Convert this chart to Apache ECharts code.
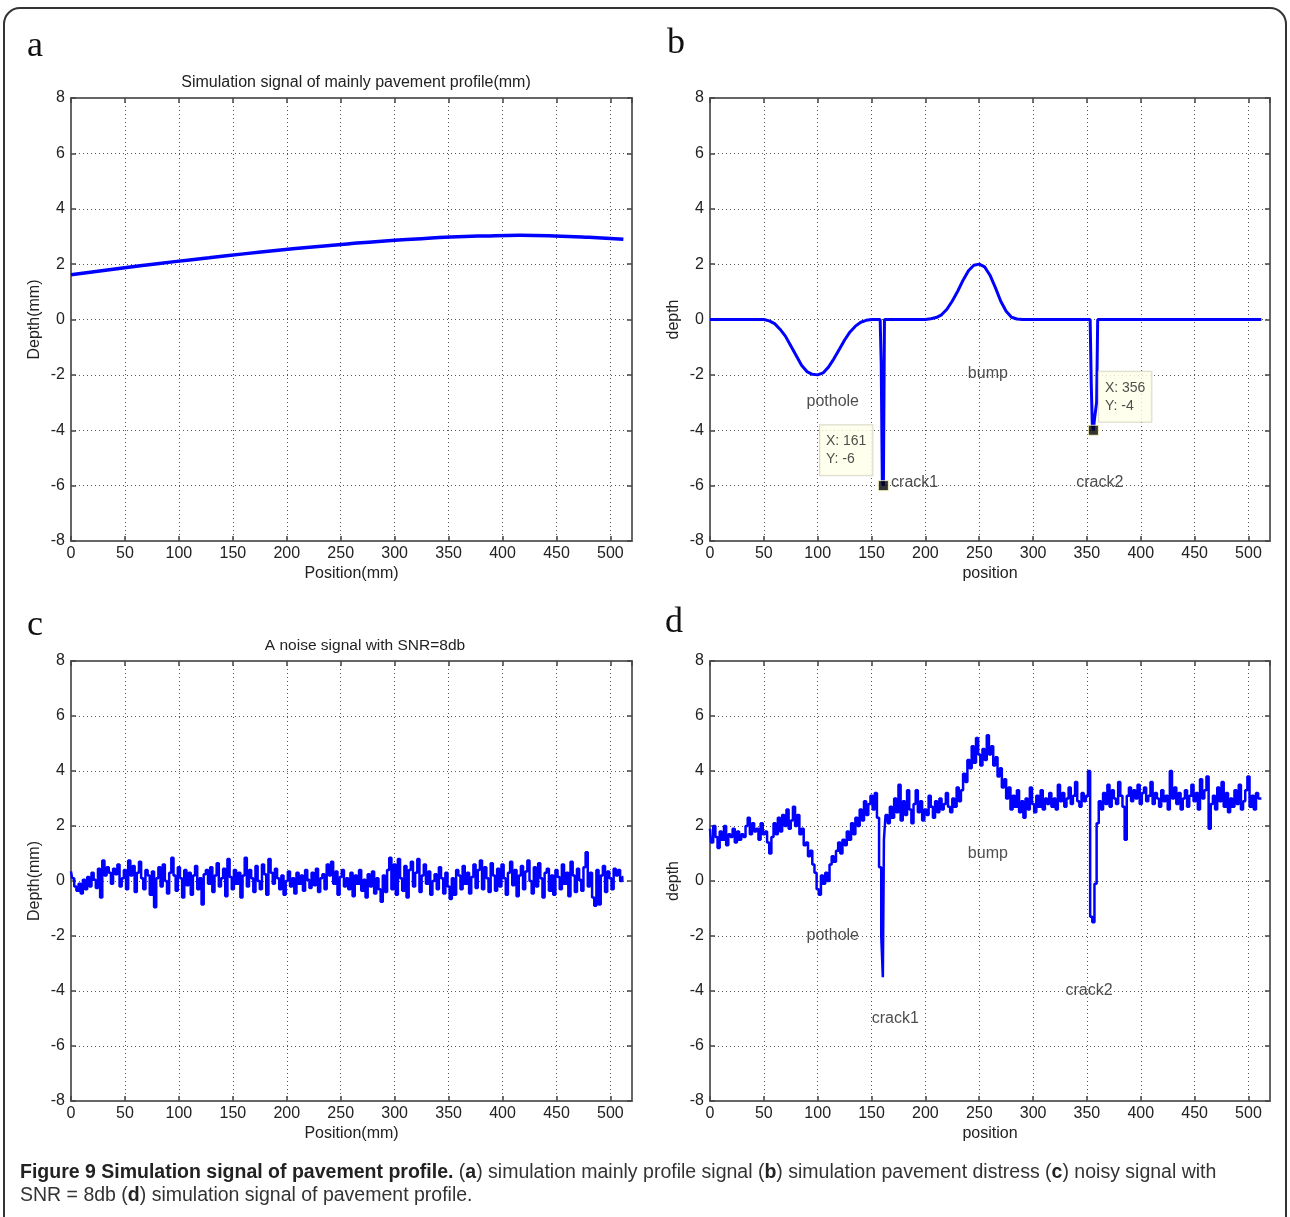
<!DOCTYPE html>
<html>
<head>
<meta charset="utf-8">
<script src="https://cdn.jsdelivr.net/npm/echarts@6/dist/echarts.min.js"></script>
<style>
  html, body { margin: 0; padding: 0; background: #fff; }
  #chart { width: 1290px; height: 1217px; }
</style>
</head>
<body>
<div id="chart"></div>
<script>
// panel a: smooth profile, sampled every 32 mm
var profileX = [0, 32, 64, 96, 128, 160, 192, 224, 256, 288, 320, 352, 384, 416, 448, 480, 512];
var profileY = [1.62, 1.78, 1.94, 2.09, 2.23, 2.37, 2.5, 2.62, 2.73, 2.83, 2.91, 2.98, 3.02, 3.04, 3.02, 2.97, 2.9];

// panel b: distress signal (pothole, crack1, bump, crack2)
var distressX = [0, 50, 55, 60, 65, 70, 75, 80, 85, 90, 95, 100, 105, 110, 115, 120, 125, 130, 135, 140, 145, 150,
  158, 159, 160, 161, 162, 200, 205, 210, 215, 220, 225, 230, 235, 240, 245, 250, 255, 260, 265, 270, 275, 280, 285, 290,
  353, 354, 355, 356, 357, 359, 360, 512];
var distressY = [0, 0, -0.05, -0.15, -0.35, -0.6, -0.95, -1.3, -1.65, -1.88, -1.98, -2.0, -1.93, -1.72, -1.42, -1.08, -0.74, -0.45, -0.24, -0.1, -0.03, 0,
  0, -1.6, -5.8, -6, 0, 0, 0.03, 0.07, 0.17, 0.37, 0.67, 1.02, 1.42, 1.76, 1.96, 2.0, 1.9, 1.6, 1.15, 0.66, 0.3, 0.08, 0.02, 0,
  0, -2.3, -3.8, -4, -3.6, -3.0, 0, 0];

// panel c: noise, one value every 2 mm (0..512)
var noiseStep = 2;
var noiseY = [
  0.35, 0.1, -0.2, -0.35, -0.1, -0.45, 0.05, -0.3, 0.15, -0.2, 0.3, 0.05, -0.25, 0.45, -0.6, 0.75,
  0.2, 0.5, 0.3, -0.1, 0.45, 0.25, 0.6, -0.2, 0.1, 0.4, -0.3, 0.75, 0.2, 0.55, -0.4, 0.3,
  0.7, 0.1, -0.3, 0.4, 0.2, -0.5, 0.35, -0.95, 0.1, 0.5, -0.2, 0.6, 0.0, -0.45, 0.3, 0.85,
  0.2, -0.35, 0.5, 0.1, -0.6, 0.4, -0.15, 0.3, -0.5, 0.2, 0.55, -0.3, 0.1, -0.85, 0.25, 0.4,
  -0.1, 0.5, -0.4, 0.2, 0.65, -0.2, 0.1, 0.45, -0.55, 0.8, 0.15, -0.3, 0.4, -0.1, 0.3, -0.6,
  0.2, 0.85, -0.2, 0.4, 0.1, -0.4, 0.55, 0.0, -0.3, 0.6, 0.25, -0.5, 0.8, 0.3, -0.1, 0.45,
  0.1, -0.3, 0.2, -0.5, 0.0, 0.35, -0.2, 0.1, -0.45, 0.3, -0.1, 0.2, -0.35, 0.4, 0.05, -0.25,
  0.3, -0.15, 0.45, -0.4, 0.1, 0.25, -0.3, 0.6, 0.2, 0.7, -0.1, 0.35, -0.5, 0.15, 0.4, -0.2,
  0.1, -0.3, 0.3, -0.55, 0.2, -0.1, 0.4, -0.35, 0.05, -0.6, 0.25, -0.2, 0.35, -0.45, 0.1, -0.3,
  -0.75, 0.2, -0.4, 0.4, 0.85, -0.3, 0.6, -0.5, 0.8, 0.1, -0.35, 0.55, -0.6, 0.4, 0.7, -0.2,
  0.3, 0.8, -0.4, 0.2, 0.6, -0.1, 0.35, -0.5, 0.0, 0.25, -0.3, 0.5, 0.1, -0.45, 0.3, -0.2,
  -0.65, 0.1, -0.5, 0.4, 0.2, -0.3, 0.55, -0.1, 0.3, -0.45, 0.15, 0.6, -0.25, 0.4, 0.75, -0.3,
  0.5, 0.1, -0.4, 0.65, 0.2, -0.35, 0.45, -0.2, 0.6, 0.1, -0.5, 0.3, 0.7, -0.15, 0.4, -0.55,
  0.2, 0.55, -0.3, 0.35, 0.75, 0.0, -0.45, 0.5, -0.2, 0.65, 0.1, -0.6, 0.3, 0.45, -0.35, 0.2,
  -0.5, 0.4, 0.15, -0.3, 0.6, -0.1, 0.3, -0.55, 0.7, 0.2, -0.4, 0.45, 0.05, -0.35, 0.5, 1.05,
  -0.2, 0.3, -0.6, -0.9, 0.4, -0.85, 0.2, 0.55, -0.4, 0.35, 0.1, -0.3, 0.45, 0.2, 0.4, 0.0,
  0.15
];

// panel d: full simulated profile, one value every 2 mm, plus the crack1 bottom sample
var fullStep = 2;
var fullY = [
  1.9, 1.4, 2.0, 1.6, 1.2, 1.8, 1.5, 2.0, 1.3, 1.7, 1.6, 1.9, 1.4, 1.8, 1.5, 1.7,
  1.6, 2.0, 2.3, 1.7, 2.1, 1.8, 1.9, 1.5, 2.1, 1.7, 1.8, 1.4, 1.0, 1.6, 2.1, 1.7,
  2.3, 1.8, 2.4, 2.0, 2.6, 1.9, 2.2, 2.7, 2.0, 2.4, 1.7, 1.9, 1.3, 1.4, 0.9, 1.1,
  0.6, 0.3, -0.3, -0.5, 0.2, -0.1, 0.3, 0.0, 0.6, 0.9, 0.7, 1.1, 1.4, 1.0, 1.5, 1.3,
  1.8, 1.5, 2.1, 1.7, 2.3, 2.0, 2.6, 2.2, 2.9, 2.4, 2.8, 3.1, 2.6, 3.2, 2.3, 0.5,
  -2.0, 1.5, 2.4, 2.1, 2.7, 2.3, 3.0, 2.5, 3.5, 2.2, 2.9, 2.4, 3.3, 2.6, 2.1, 2.8,
  3.3, 2.5, 2.9, 2.2, 2.6, 2.4, 3.1, 2.7, 2.3, 2.9, 2.5, 3.0, 2.6, 2.8, 3.2, 2.7,
  2.5, 3.0, 2.7, 3.4, 2.9, 3.3, 3.9, 3.6, 4.4, 4.1, 4.9, 4.3, 5.2, 4.6, 4.2, 4.8,
  4.4, 5.3, 4.6, 4.9, 4.2, 4.5, 3.8, 4.1, 3.4, 3.7, 3.0, 3.4, 2.6, 3.1, 2.7, 3.3,
  2.5, 2.9, 2.3, 3.0, 2.6, 3.4, 2.8, 2.5, 3.1, 2.7, 3.3, 2.6, 3.0, 2.8, 3.2, 2.7,
  3.0, 2.6, 3.5, 2.9, 3.2, 2.7, 3.0, 3.4, 2.8, 3.1, 3.6, 2.9, 2.7, 3.2, 2.9, 3.1,
  4.0, -1.3, -1.5, -0.1, 2.1, 2.9, 2.6, 3.2, 2.8, 3.5, 2.7, 3.3, 3.0, 2.8, 3.6, 3.1,
  2.7, 1.5, 3.1, 3.4, 2.9, 3.3, 3.0, 3.5, 2.8, 3.2, 3.4, 2.9, 3.1, 3.6, 2.8, 3.2,
  3.0, 2.7, 3.3, 2.9, 3.1, 2.6, 4.0, 3.0, 3.4, 2.8, 3.2, 2.6, 3.0, 3.3, 2.7, 3.1,
  3.5, 2.9, 3.2, 2.6, 3.7, 3.0, 3.3, 3.8, 1.9, 2.8, 3.1, 2.6, 3.4, 2.9, 3.6, 2.7,
  3.2, 2.5, 3.0, 2.7, 3.3, 2.8, 3.5, 2.6, 2.9, 3.3, 3.8, 2.7, 3.1, 2.6, 3.2, 3.0,
  3.0
];
var crackX = [161];
var crackY = [-3.5];

// annotation texts
var labelNames = ['pothole', 'bump', 'crack1', 'crack2'];
var labelPosB = [[114, -2.95], [258, -1.95], [190, -5.9], [362, -5.9]];
var labelPosD = [[114, -2.0], [258, 1.0], [172, -5.0], [352, -4.0]];
var tipPts = [[161, -6], [356, -4]];

var xTicks = { min: 0, max: 520, interval: 50 };
var yTicks = { min: -8, max: 8, interval: 2 };

var FONT = 'Liberation Sans, Arial, sans-serif';
var BLUE = '#0000ff';

function pairs(xs, ys) {
  return xs.map(function (x, i) { return [x, ys[i]]; });
}
function stepPairs(step, ys) {
  return ys.map(function (y, i) { return [i * step, y]; });
}

var fullData = stepPairs(fullStep, fullY).concat(pairs(crackX, crackY));
fullData.sort(function (p, q) { return p[0] - q[0]; });

var grids = [
  { left: 71, top: 98, width: 561, height: 443 },
  { left: 710, top: 98, width: 560, height: 443 },
  { left: 71, top: 661, width: 561, height: 440 },
  { left: 710, top: 661, width: 560, height: 440 }
];
var xNames = ['Position(mm)', 'position', 'Position(mm)', 'position'];
var yNames = ['Depth(mm)', 'depth', 'Depth(mm)', 'depth'];

var lineCol = '#666';
var tickStyle = { show: true, inside: true, length: 5, lineStyle: { color: '#444', width: 1.5 } };
var xAxes = [], yAxes = [];
grids.forEach(function (g, i) {
  xAxes.push({
    gridIndex: i, type: 'value', position: 'bottom', min: xTicks.min, max: xTicks.max, interval: xTicks.interval,
    name: xNames[i], nameLocation: 'middle', nameGap: 25,
    nameTextStyle: { fontFamily: FONT, fontSize: 16, color: '#222' },
    axisLine: { show: true, onZero: false, lineStyle: { color: lineCol, width: 2 } },
    axisTick: tickStyle,
    axisLabel: { fontFamily: FONT, fontSize: 16, color: '#222', margin: 5, showMaxLabel: false },
    splitLine: { show: true, lineStyle: { color: '#555', width: 1, type: [1, 3] } }
  });
  xAxes.push({
    gridIndex: i, type: 'value', position: 'top', min: xTicks.min, max: xTicks.max, interval: xTicks.interval,
    axisLine: { show: true, onZero: false, lineStyle: { color: lineCol, width: 2 } },
    axisTick: tickStyle,
    axisLabel: { show: false }, splitLine: { show: false }
  });
  yAxes.push({
    gridIndex: i, type: 'value', position: 'left', min: yTicks.min, max: yTicks.max, interval: yTicks.interval,
    name: yNames[i], nameLocation: 'middle', nameGap: 28,
    nameTextStyle: { fontFamily: FONT, fontSize: 16, color: '#222' },
    axisLine: { show: true, onZero: false, lineStyle: { color: lineCol, width: 2 } },
    axisTick: tickStyle,
    axisLabel: { fontFamily: FONT, fontSize: 16, color: '#222', margin: 6 },
    splitLine: { show: true, lineStyle: { color: '#555', width: 1, type: [1, 3] } }
  });
  yAxes.push({
    gridIndex: i, type: 'value', position: 'right', min: yTicks.min, max: yTicks.max, interval: yTicks.interval,
    axisLine: { show: true, onZero: false, lineStyle: { color: lineCol, width: 2 } },
    axisTick: tickStyle,
    axisLabel: { show: false }, splitLine: { show: false }
  });
});

function lineSeries(idx, data, width, smooth, step) {
  return {
    type: 'line', xAxisIndex: idx * 2, yAxisIndex: idx * 2, data: data,
    showSymbol: false, symbol: 'none', smooth: !!smooth, step: step || false,
    lineStyle: { color: BLUE, width: width }, z: 3
  };
}
function textSeries(idx, pos) {
  return {
    type: 'scatter', xAxisIndex: idx * 2, yAxisIndex: idx * 2, symbolSize: 1,
    itemStyle: { color: 'rgba(0,0,0,0)' }, silent: true, z: 4,
    data: pos.map(function (p, i) { return { name: labelNames[i], value: p }; }),
    label: {
      show: true, position: 'inside', formatter: '{b}',
      fontFamily: FONT, fontSize: 16, color: '#222'
    }
  };
}

var tipStyle = {
  show: true, fontFamily: FONT, fontSize: 14, color: '#222', lineHeight: 18,
  backgroundColor: '#ffffe8', borderColor: '#d0d0c0', borderWidth: 1, padding: [7, 6, 7, 6],
  align: 'left', verticalAlign: 'top'
};

var capFont = '19.5px "Liberation Sans", sans-serif';
var capBold = 'bold 19.5px "Liberation Sans", sans-serif';

var option = {
  animation: false,
  backgroundColor: '#fff',
  grid: grids,
  xAxis: xAxes,
  yAxis: yAxes,
  title: [
    { text: 'Simulation signal of mainly pavement profile(mm)', left: 351, top: 70, textAlign: 'center',
      textStyle: { fontFamily: FONT, fontSize: 16, fontWeight: 'normal', color: '#222' } },
    { text: 'A noise signal with SNR=8db', left: 360, top: 633, textAlign: 'center',
      textStyle: { fontFamily: FONT, fontSize: 15.5, fontWeight: 'normal', color: '#222' } }
  ],
  graphic: [
    { type: 'rect', shape: { x: 4, y: 8, width: 1282, height: 1240, r: 16 },
      style: { fill: 'none', stroke: '#333', lineWidth: 2 }, silent: true },
    { type: 'text', left: 27, top: 29, style: { text: 'a', font: '36px "Liberation Serif", serif', fill: '#111' } },
    { type: 'text', left: 667, top: 26, style: { text: 'b', font: '36px "Liberation Serif", serif', fill: '#111' } },
    { type: 'text', left: 27, top: 608, style: { text: 'c', font: '36px "Liberation Serif", serif', fill: '#111' } },
    { type: 'text', left: 665, top: 605, style: { text: 'd', font: '36px "Liberation Serif", serif', fill: '#111' } },
    { type: 'text', left: 20, top: 1163, style: {
        text: '{b|Figure 9 Simulation signal of pavement profile.} ({bb|a}) simulation mainly profile signal ({bb|b}) simulation pavement distress ({bb|c}) noisy signal with',
        font: capFont, fill: '#333',
        rich: { b: { font: capBold, fill: '#222' }, bb: { font: capBold, fill: '#222' } } } },
    { type: 'text', left: 20, top: 1186, style: {
        text: 'SNR = 8db ({bb|d}) simulation signal of pavement profile.',
        font: capFont, fill: '#333',
        rich: { bb: { font: capBold, fill: '#222' } } } }
  ],
  series: [
    lineSeries(0, pairs(profileX, profileY), 3.5, true),
    lineSeries(1, pairs(distressX, distressY), 3, false),
    {
      type: 'scatter', xAxisIndex: 2, yAxisIndex: 2, symbol: 'rect', symbolSize: 10, z: 5,
      itemStyle: { color: '#000', borderColor: '#ffffc0', borderWidth: 1 },
      data: [
        { value: tipPts[0], label: Object.assign({}, tipStyle, { position: [-58, -55], formatter: 'X: ' + tipPts[0][0] + '\nY: ' + tipPts[0][1] }) },
        { value: tipPts[1], label: Object.assign({}, tipStyle, { position: [11, -53], formatter: 'X: ' + tipPts[1][0] + '\nY: ' + tipPts[1][1] }) }
      ]
    },
    textSeries(1, labelPosB),
    lineSeries(2, stepPairs(noiseStep, noiseY), 2.5, false, 'middle'),
    lineSeries(3, fullData, 2.5, false, 'middle'),
    textSeries(3, labelPosD)
  ]
};

var chart = echarts.init(document.getElementById('chart'), null, { renderer: 'canvas' });
chart.setOption(option);
</script>
</body>
</html>
